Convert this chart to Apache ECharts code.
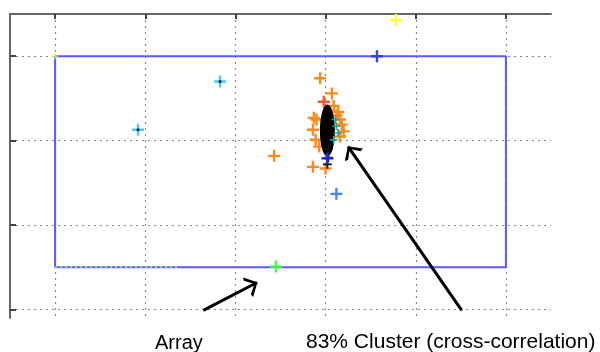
<!DOCTYPE html>
<html>
<head>
<meta charset="utf-8">
<script src="https://cdn.jsdelivr.net/npm/echarts@6/dist/echarts.min.js"></script>
<style>
  html, body { margin: 0; padding: 0; background: #fff; }
  #chart { width: 600px; height: 352px; }
</style>
</head>
<body>
<div id="chart"></div>
<script>
// ---- data ----
const xTicks = [0, 1, 2, 3, 4, 5];
const yTicks = [0, 1, 2, 3];
const rectX = [0, 5, 5, 0, 0];
const rectY = [3, 3, 0.5, 0.5, 3];
const greenDotX = [0, 1.38];
const greenDotY = [0.5, 0.5];

const orangeX = [2.94, 3.07, 3.09, 2.90, 3.16, 3.18, 3.20, 3.16, 2.93, 2.43, 2.86, 3.00, 3.12, 2.87, 2.86, 2.89, 3.14];
const orangeY = [2.74, 2.56, 2.41, 2.25, 2.25, 2.19, 2.11, 2.05, 1.93, 1.82, 1.69, 1.67, 2.30, 2.27, 2.13, 2.01, 2.34];
const redX = [2.98];
const redY = [2.46];
const cyanX = [1.83, 0.92];
const cyanY = [2.70, 2.13];
const tealX = [3.12, 3.14, 3.09, 3.11];
const tealY = [2.17, 2.09, 2.01, 2.25];
const blueX = [3.57, 3.02, 3.12];
const blueY = [3.00, 1.79, 1.37];
const blueColors = ['#3344dd', '#2222dd', '#4488ff'];
const yellowX = [3.78];
const yellowY = [3.43];
const greenX = [2.45];
const greenY = [0.51];
const blobX = [3.02];
const blobY = [2.12];
const blackX = [3.03, 3.02, 3.03];
const blackY = [1.80, 1.72, 1.90];

const arrowFrom = [[1.644, -0.01], [4.51, -0.01]];
const arrowTo = [[2.24, 0.32], [3.25, 1.93]];
const labels = ['Array', '83% Cluster (cross-correlation)'];

// ---- helpers ----
const PLUS = 'path://M-1,-0.2L1,-0.2L1,0.2L-1,0.2Z M-0.2,-1L0.2,-1L0.2,1L-0.2,1Z';
const HEAD = 'path://M0,0L1,1.7L0.7,1.85L0,0.55L-0.7,1.85L-1,1.7Z M0,-1.7L0.01,-1.7L0,-1.69Z';

function pts(xs, ys) {
    return xs.map((x, i) => [x, ys[i]]);
}

function plus(xs, ys, color, size, z) {
    return {
        type: 'scatter',
        data: pts(xs, ys),
        symbol: PLUS,
        symbolSize: size || 12,
        itemStyle: { color: color, opacity: 1 },
        z: z || 3,
        silent: true
    };
}

const font = 'Liberation Sans, Arial, sans-serif';
const gridDots = { color: '#888', width: 1.2, type: [2, 4] };
const chart = echarts.init(document.getElementById('chart'));

const option = {
    animation: false,
    title: [
        { text: labels[0], left: 155, top: 333, padding: 0,
          textStyle: { fontSize: 20, fontWeight: 'normal', fontFamily: font, color: '#000' } },
        { text: labels[1], left: 306, top: 332, padding: 0,
          textStyle: { fontSize: 21, fontWeight: 'normal', fontFamily: font, color: '#000' } }
    ],
    grid: { left: 10, right: 49, top: 14, bottom: 34 },
    xAxis: {
        type: 'value', position: 'top',
        min: -0.5, max: 5.5, splitNumber: 6,
        axisLine: { show: true, onZero: false, lineStyle: { color: '#666', width: 2 } },
        axisTick: { show: true, inside: true, length: 5, customValues: xTicks,
                    lineStyle: { color: '#444', width: 2 } },
        axisLabel: { show: false },
        splitLine: { show: true, showMinLine: true, showMaxLine: true, lineStyle: gridDots }
    },
    yAxis: {
        type: 'value',
        min: -0.1, max: 3.5, splitNumber: 4,
        axisLine: { show: true, onZero: false, lineStyle: { color: '#666', width: 2 } },
        axisTick: { show: true, inside: true, length: 6, customValues: yTicks,
                    lineStyle: { color: '#444', width: 2 } },
        axisLabel: { show: false },
        splitLine: { show: true, showMinLine: true, showMaxLine: true, lineStyle: gridDots }
    },
    series: [
        {
            type: 'line', data: pts(rectX, rectY), symbol: 'none', silent: true,
            lineStyle: { color: '#5a5aff', width: 2 }, z: 2
        },
        {
            type: 'line', data: pts(greenDotX, greenDotY), symbol: 'none', silent: true,
            lineStyle: { color: '#99ee66', width: 1.5, type: [2, 3] }, z: 2
        },
        plus([0], [3], '#bbee66', 6, 2),
        plus(orangeX, orangeY, '#ff8a1a', 12, 3),
        plus(redX, redY, '#ff5a2a', 12, 3),
        {
            type: 'scatter', data: pts(blobX, blobY), symbol: 'circle',
            symbolSize: [15, 52], itemStyle: { color: '#000', opacity: 1 }, z: 4, silent: true
        },
        plus(blackX, blackY, '#111', 9, 4),
        plus(tealX, tealY, '#11aaaa', 8, 5),
        plus(cyanX, cyanY, '#44ccff', 12, 3),
        {
            type: 'scatter', data: pts(cyanX, cyanY), symbol: 'circle',
            symbolSize: 3, itemStyle: { color: '#223', opacity: 1 }, z: 4, silent: true
        },
        {
            type: 'scatter', symbol: PLUS, symbolSize: 12, z: 5, silent: true,
            data: pts(blueX, blueY).map((p, i) => ({ value: p, itemStyle: { color: blueColors[i], opacity: 1 } }))
        },
        plus(yellowX, yellowY, '#ffff33', 12, 3),
        plus(greenX, greenY, '#44ff44', 12, 3),
        {
            type: 'lines', coordinateSystem: 'cartesian2d', silent: true, z: 6,
            symbol: ['none', HEAD], symbolSize: [13, 22],
            lineStyle: { color: '#000', width: 3, opacity: 1 },
            data: arrowFrom.map((f, i) => ({ coords: [f, arrowTo[i]] }))
        }
    ]
};

chart.setOption(option);
</script>
</body>
</html>
